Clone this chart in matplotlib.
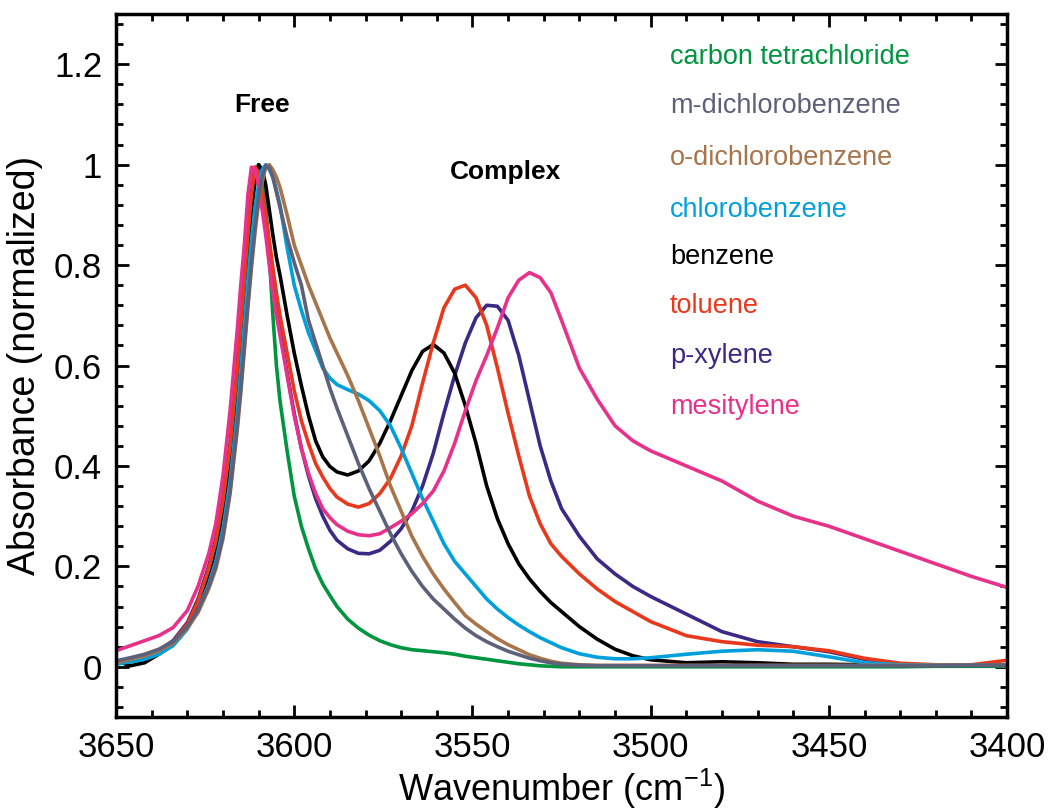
import numpy as np
import matplotlib
matplotlib.use("Agg")
import matplotlib.pyplot as plt
from matplotlib.ticker import MultipleLocator

plt.rcParams['font.family'] = ['Liberation Sans', 'DejaVu Sans']
plt.rcParams['mathtext.fontset'] = 'custom'
plt.rcParams['mathtext.rm'] = 'Liberation Sans'

# ---- data (wavenumber grid, cm-1) ----
wavenumber = [3650, 3646, 3642, 3638, 3634, 3630, 3627, 3624, 3622, 3620,
              3618, 3616, 3615, 3614, 3613, 3612, 3611, 3610, 3609, 3608,
              3607, 3606, 3605, 3604, 3602, 3600, 3598, 3596, 3594, 3592,
              3590, 3588, 3585, 3582, 3579, 3576, 3573, 3570, 3567, 3564,
              3561, 3558, 3555, 3552, 3549, 3546, 3543, 3540, 3537, 3534,
              3531, 3528, 3525, 3520, 3515, 3510, 3505, 3500, 3490, 3480,
              3470, 3460, 3450, 3440, 3430, 3420, 3410, 3400]

ccl4 = [0.010, 0.010, 0.015, 0.025, 0.045, 0.078, 0.118, 0.178, 0.230, 0.305,
        0.405, 0.550, 0.640, 0.730, 0.820, 0.905, 0.965, 1.000, 0.980, 0.920,
        0.820, 0.700, 0.600, 0.530, 0.430, 0.340, 0.280, 0.235, 0.195, 0.165,
        0.142, 0.120, 0.095, 0.077, 0.063, 0.052, 0.044, 0.038, 0.034, 0.032,
        0.030, 0.028, 0.025, 0.021, 0.018, 0.015, 0.012, 0.009, 0.006, 0.004,
        0.002, 0.001, 0.000, 0.000, 0.000, 0.000, 0.000, 0.000, 0.000, 0.000,
        0.000, 0.000, 0.000, 0.000, 0.000, 0.001, 0.001, 0.001]

mdcb = [0.012, 0.018, 0.025, 0.035, 0.050, 0.080, 0.112, 0.160, 0.200, 0.260,
        0.350, 0.480, 0.555, 0.640, 0.725, 0.805, 0.875, 0.935, 0.975, 0.998,
        0.995, 0.975, 0.945, 0.915, 0.855, 0.805, 0.760, 0.690, 0.645, 0.600,
        0.555, 0.515, 0.460, 0.405, 0.355, 0.310, 0.265, 0.225, 0.190, 0.160,
        0.135, 0.115, 0.095, 0.077, 0.062, 0.050, 0.040, 0.031, 0.024, 0.017,
        0.012, 0.008, 0.005, 0.003, 0.002, 0.002, 0.002, 0.002, 0.002, 0.002,
        0.002, 0.002, 0.002, 0.002, 0.002, 0.002, 0.003, 0.003]

odcb = [0.008, 0.015, 0.022, 0.032, 0.047, 0.077, 0.108, 0.155, 0.195, 0.255,
        0.345, 0.470, 0.545, 0.630, 0.715, 0.795, 0.865, 0.925, 0.965, 0.995,
        1.000, 0.990, 0.975, 0.955, 0.900, 0.840, 0.800, 0.760, 0.725, 0.690,
        0.655, 0.625, 0.580, 0.530, 0.475, 0.420, 0.360, 0.310, 0.260, 0.220,
        0.185, 0.155, 0.128, 0.102, 0.085, 0.070, 0.056, 0.044, 0.034, 0.024,
        0.017, 0.011, 0.007, 0.004, 0.003, 0.003, 0.003, 0.003, 0.003, 0.003,
        0.003, 0.003, 0.003, 0.003, 0.003, 0.003, 0.003, 0.003]

clbz = [0.005, 0.010, 0.015, 0.025, 0.042, 0.075, 0.112, 0.165, 0.210, 0.275,
        0.370, 0.505, 0.590, 0.680, 0.770, 0.850, 0.915, 0.960, 0.990, 1.000,
        0.990, 0.975, 0.950, 0.920, 0.835, 0.760, 0.710, 0.665, 0.630, 0.595,
        0.575, 0.562, 0.552, 0.543, 0.530, 0.510, 0.480, 0.435, 0.385, 0.335,
        0.290, 0.245, 0.210, 0.185, 0.160, 0.135, 0.115, 0.098, 0.083, 0.070,
        0.058, 0.048, 0.038, 0.026, 0.019, 0.016, 0.016, 0.018, 0.025, 0.031,
        0.034, 0.031, 0.020, 0.008, 0.004, 0.003, 0.003, 0.003]

benzene = [0.012, 0.002, 0.008, 0.025, 0.045, 0.080, 0.120, 0.180, 0.235, 0.310,
           0.410, 0.555, 0.645, 0.735, 0.825, 0.910, 0.970, 1.000, 0.990, 0.960,
           0.910, 0.860, 0.815, 0.780, 0.700, 0.625, 0.560, 0.500, 0.450, 0.418,
           0.399, 0.388, 0.382, 0.390, 0.410, 0.445, 0.490, 0.540, 0.590, 0.628,
           0.642, 0.625, 0.585, 0.520, 0.445, 0.360, 0.295, 0.245, 0.205, 0.175,
           0.150, 0.128, 0.110, 0.080, 0.055, 0.035, 0.022, 0.014, 0.008, 0.010,
           0.008, 0.005, 0.005, 0.004, 0.003, 0.003, 0.003, 0.003]

toluene = [0.012, 0.012, 0.020, 0.032, 0.050, 0.085, 0.130, 0.195, 0.250, 0.330,
           0.440, 0.590, 0.680, 0.770, 0.860, 0.940, 0.995, 0.985, 0.950, 0.900,
           0.850, 0.795, 0.745, 0.700, 0.625, 0.550, 0.490, 0.445, 0.405, 0.378,
           0.355, 0.338, 0.324, 0.318, 0.325, 0.345, 0.375, 0.420, 0.480, 0.565,
           0.645, 0.715, 0.752, 0.760, 0.735, 0.680, 0.595, 0.505, 0.420, 0.340,
           0.285, 0.245, 0.220, 0.185, 0.155, 0.130, 0.110, 0.090, 0.062, 0.050,
           0.043, 0.040, 0.032, 0.017, 0.007, 0.004, 0.004, 0.013]

pxylene = [0.010, 0.012, 0.020, 0.033, 0.052, 0.088, 0.135, 0.200, 0.255, 0.335,
           0.445, 0.595, 0.685, 0.775, 0.865, 0.945, 0.995, 0.985, 0.950, 0.895,
           0.835, 0.775, 0.720, 0.670, 0.585, 0.505, 0.435, 0.380, 0.335, 0.300,
           0.272, 0.252, 0.235, 0.226, 0.225, 0.232, 0.250, 0.275, 0.310, 0.360,
           0.425, 0.505, 0.580, 0.645, 0.695, 0.720, 0.718, 0.690, 0.620, 0.530,
           0.440, 0.370, 0.315, 0.260, 0.215, 0.185, 0.160, 0.140, 0.105, 0.070,
           0.050, 0.040, 0.030, 0.015, 0.006, 0.003, 0.003, 0.003]

mesitylene = [0.032, 0.042, 0.052, 0.062, 0.078, 0.112, 0.160, 0.225, 0.285, 0.380,
              0.510, 0.670, 0.760, 0.840, 0.940, 0.995, 0.990, 0.960, 0.910, 0.860,
              0.800, 0.745, 0.700, 0.660, 0.580, 0.500, 0.435, 0.385, 0.345, 0.315,
              0.297, 0.283, 0.270, 0.263, 0.261, 0.265, 0.277, 0.290, 0.305, 0.325,
              0.350, 0.390, 0.445, 0.510, 0.570, 0.620, 0.675, 0.735, 0.770, 0.785,
              0.775, 0.745, 0.690, 0.595, 0.533, 0.480, 0.450, 0.430, 0.400, 0.370,
              0.330, 0.300, 0.280, 0.255, 0.230, 0.205, 0.180, 0.158]

names = ['carbon tetrachloride', 'm-dichlorobenzene', 'o-dichlorobenzene',
         'chlorobenzene', 'benzene', 'toluene', 'p-xylene', 'mesitylene']
colors = ['#00953f', '#5c6079', '#a8744b', '#00a0dc', '#000000',
          '#e8391d', '#3a2985', '#e8318a']
series = [ccl4, mdcb, odcb, clbz, benzene, toluene, pxylene, mesitylene]

# draw order (last on top) roughly like the original
draw_order = [0, 6, 4, 5, 3, 7, 2, 1]

yticks = [0, 0.2, 0.4, 0.6, 0.8, 1.0, 1.2]
ytick_labels = ['0', '0.2', '0.4', '0.6', '0.8', '1', '1.2']
xticks = [3650, 3600, 3550, 3500, 3450, 3400]

fig = plt.figure(figsize=(10.51, 8.10), dpi=100)
ax = fig.add_axes([0.1104, 0.1148, 0.8478, 0.8679])

for i in draw_order:
    ax.plot(wavenumber, series[i], color=colors[i], lw=2.6,
            solid_joinstyle='round', solid_capstyle='round')

ax.set_xlim(3650, 3400)
ax.set_ylim(-0.1, 1.3)
ax.set_xticks(xticks)
ax.set_xticklabels([str(x) for x in xticks])
ax.set_yticks(yticks)
ax.set_yticklabels(ytick_labels)
ax.xaxis.set_minor_locator(MultipleLocator(10))
ax.yaxis.set_minor_locator(MultipleLocator(0.04))
ax.tick_params(which='both', direction='in', top=True, right=True, labelsize=25, width=2)
ax.tick_params(which='major', length=9, pad=10)
ax.tick_params(which='minor', length=5)
for s in ax.spines.values():
    s.set_linewidth(2.5)

ax.set_xlabel('Wavenumber (cm$^{-1}$)', fontsize=26, labelpad=2)
ax.set_ylabel('Absorbance (normalized)', fontsize=27, labelpad=8)

ax.text(0.1639, 0.8706, 'Free', transform=ax.transAxes, fontsize=19,
        fontweight='bold', ha='center', va='center')
ax.text(0.4366, 0.7752, 'Complex', transform=ax.transAxes, fontsize=19,
        fontweight='bold', ha='center', va='center')

label_y = [57, 106, 158, 210, 257, 306, 356, 407]
for name, c, yp in zip(names, colors, label_y):
    ax.text(0.6218, (717 - yp) / 703, name, transform=ax.transAxes,
            fontsize=19.5, color=c, ha='left', va='center')

fig.savefig('out.png', dpi=100)
